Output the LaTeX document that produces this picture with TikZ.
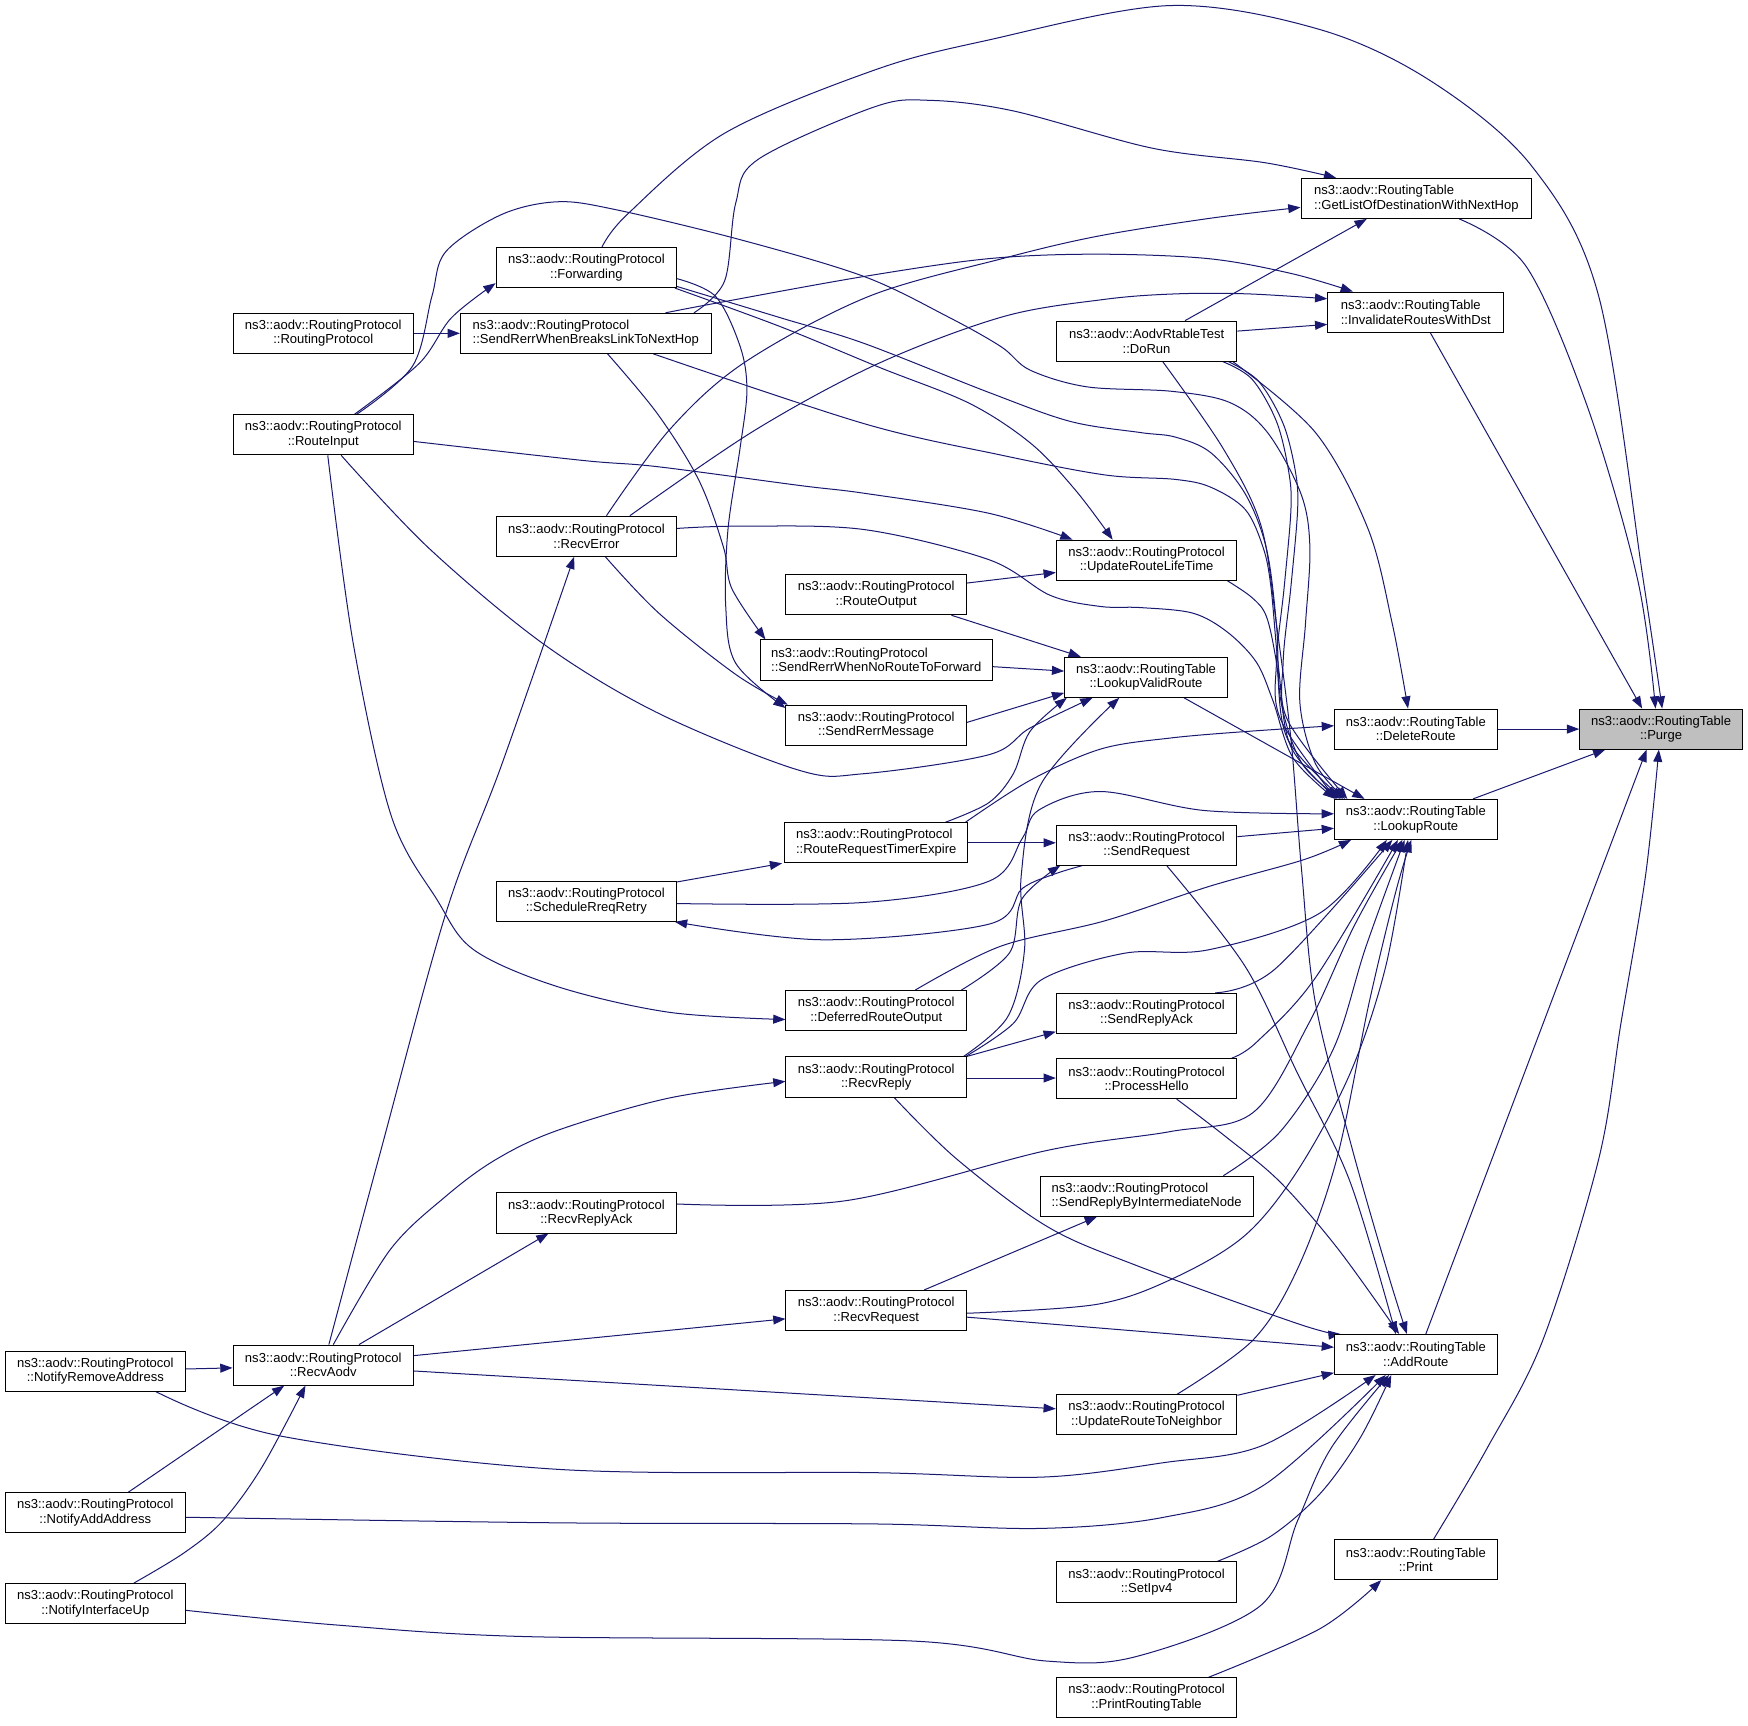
\documentclass[tikz,border=0pt]{standalone}
\usepackage{fontspec}
\setmainfont{Liberation Sans}
\usetikzlibrary{arrows.meta,backgrounds}
\definecolor{edgec}{RGB}{25,25,112}
\begin{document}
\begin{tikzpicture}[x=1pt,y=-1pt,
  box/.style={draw=black, fill=white, line width=0.8pt, inner sep=0pt, minimum height=36pt, font=\fontsize{11.7}{13}\selectfont, align=center},
  lbox/.style={box, align=left},
  rp/.style={box, minimum width=162pt},
  rt/.style={box, minimum width=146pt},
  edge/.style={draw=edgec, line width=0.9pt, -{Triangle[length=11pt,width=8pt]}},
  sm/.style={smooth, tension=0.55}
]
\useasboundingbox (0,0) rectangle (1568,1548);
% ---------------- nodes
\node[rt, fill=black!25] (purge) at (1490,654) {ns3::aodv::RoutingTable\\::Purge};
\node[lbox, minimum width=207pt] (getlist) at (1270.5,178) {ns3::aodv::RoutingTable\\::GetListOfDestinationWithNextHop};
\node[lbox, minimum width=158pt] (invalidate) at (1270,280) {ns3::aodv::RoutingTable\\::InvalidateRoutesWithDst};
\node[rt] (deleteroute) at (1270,654) {ns3::aodv::RoutingTable\\::DeleteRoute};
\node[rt] (lookuproute) at (1270,735) {ns3::aodv::RoutingTable\\::LookupRoute};
\node[rt] (addroute) at (1270,1215) {ns3::aodv::RoutingTable\\::AddRoute};
\node[rt] (print) at (1270,1399) {ns3::aodv::RoutingTable\\::Print};
\node[rp] (dorun) at (1028.5,306) {ns3::aodv::AodvRtableTest\\::DoRun};
\node[rp] (urlt) at (1028.5,502.5) {ns3::aodv::RoutingProtocol\\::UpdateRouteLifeTime};
\node[rt] (lvr) at (1028,607.5) {ns3::aodv::RoutingTable\\::LookupValidRoute};
\node[rp] (sendrequest) at (1028.5,758) {ns3::aodv::RoutingProtocol\\::SendRequest};
\node[rp] (sendreplyack) at (1028.5,909) {ns3::aodv::RoutingProtocol\\::SendReplyAck};
\node[rp] (processhello) at (1028.5,967.5) {ns3::aodv::RoutingProtocol\\::ProcessHello};
\node[lbox, minimum width=191pt] (srbin) at (1028.5,1073) {ns3::aodv::RoutingProtocol\\::SendReplyByIntermediateNode};
\node[rp] (urtn) at (1028.5,1269) {ns3::aodv::RoutingProtocol\\::UpdateRouteToNeighbor};
\node[rp] (setipv4) at (1028.5,1419) {ns3::aodv::RoutingProtocol\\::SetIpv4};
\node[rp] (printrt) at (1028.5,1523) {ns3::aodv::RoutingProtocol\\::PrintRoutingTable};
\node[rp] (routeoutput) at (786,533.5) {ns3::aodv::RoutingProtocol\\::RouteOutput};
\node[lbox, minimum width=208pt] (srwnrtf) at (786,592) {ns3::aodv::RoutingProtocol\\::SendRerrWhenNoRouteToForward};
\node[rp] (srm) at (786,650.5) {ns3::aodv::RoutingProtocol\\::SendRerrMessage};
\node[lbox, minimum width=164pt] (rrte) at (786,756) {ns3::aodv::RoutingProtocol\\::RouteRequestTimerExpire};
\node[rp] (dro) at (786,906.5) {ns3::aodv::RoutingProtocol\\::DeferredRouteOutput};
\node[rp] (recvreply) at (786,966) {ns3::aodv::RoutingProtocol\\::RecvReply};
\node[rp] (recvrequest) at (786,1175.5) {ns3::aodv::RoutingProtocol\\::RecvRequest};
\node[rp] (forwarding) at (526,240) {ns3::aodv::RoutingProtocol\\::Forwarding};
\node[lbox, minimum width=225pt] (sb) at (525.5,299) {ns3::aodv::RoutingProtocol\\::SendRerrWhenBreaksLinkToNextHop};
\node[rp] (recverror) at (526,481) {ns3::aodv::RoutingProtocol\\::RecvError};
\node[rp] (srr) at (526,808.5) {ns3::aodv::RoutingProtocol\\::ScheduleRreqRetry};
\node[rp] (recvreplyack) at (526,1088) {ns3::aodv::RoutingProtocol\\::RecvReplyAck};
\node[rp] (rpctor) at (290,299) {ns3::aodv::RoutingProtocol\\::RoutingProtocol};
\node[rp] (routeinput) at (290,390) {ns3::aodv::RoutingProtocol\\::RouteInput};
\node[rp] (recvaodv) at (290,1224.5) {ns3::aodv::RoutingProtocol\\::RecvAodv};
\node[rp] (nra) at (85.5,1230) {ns3::aodv::RoutingProtocol\\::NotifyRemoveAddress};
\node[rp] (naa) at (85.5,1357) {ns3::aodv::RoutingProtocol\\::NotifyAddAddress};
\node[rp] (niu) at (85.5,1438.5) {ns3::aodv::RoutingProtocol\\::NotifyInterfaceUp};
% ---------------- edges
\begin{pgfonlayer}{background}
% into Purge
\draw[edge] (deleteroute.east) -- (purge.west);
\draw[edge] ([xshift=-22pt]lookuproute.north east) -- ([xshift=-50pt]purge.south);
\draw[edge] ([xshift=9pt]addroute.north) -- ([xshift=-13pt]purge.south);
\draw[edge] plot[sm] coordinates {([xshift=16pt]print.north) (1334,1299) (1384,1202) (1434,1040) (1454,918) (1476,786) ([xshift=-2pt]purge.south)};
\draw[edge] plot[sm] coordinates {([xshift=38.5pt]getlist.south) (1369,239) (1424,365) (1469,520) ([xshift=-5pt]purge.north)};
\draw[edge] ([xshift=13pt]invalidate.south) -- ([xshift=-17pt]purge.north);
\draw[edge] plot[sm] coordinates {([xshift=14pt]forwarding.north) (563,192) (650,119.5) (784,63) (884,36.5) (1049,5) (1184,26.5) (1284,73) (1374,149) (1434,265.5) (1474,520) ([xshift=1pt]purge.north)};
% into GetList / Invalidate
\draw[edge] plot[sm] coordinates {([xshift=97pt]sb.north) (650,252) (660,182) (680,143) (784,96) (834,90) (909,99.5) (1034,133) (1135,146) ([xshift=32pt]getlist.north west)};
\draw[edge] plot[sm] coordinates {([xshift=18pt]recverror.north) (601,385) (668,325) (779,266) (899,232) (984,212) (1084,196) ([yshift=-8pt]getlist.west)};
\draw[edge] plot[sm] coordinates {([xshift=71.5pt]sb.north) (642,272) (775,248) (887,232) (984,228) (1084,232) (1159,245.5) ([xshift=23pt]invalidate.north west)};
\draw[edge] plot[sm] coordinates {([xshift=39pt]recverror.north) (677,386) (788,326) (900,284) (991,268.5) (1055,263.6) (1119,263.6) ([yshift=12pt]invalidate.west)};
\draw[edge] ([yshift=9pt]dorun.east) -- ([yshift=-11pt]invalidate.west);
\draw[edge] ([xshift=34.5pt]dorun.north) -- ([xshift=-44.5pt]getlist.south);
% DoRun
\draw[edge] plot[sm] coordinates {([xshift=-4pt]dorun.south east) (1180,388) (1227,474) (1249,560) ([xshift=-7pt]deleteroute.north)};
\draw[edge] plot[sm] coordinates {([xshift=14.5pt]dorun.south) (1097,402) (1131,471) (1145,560) (1158,663) (1167.5,780) (1180,900) (1212,1027) (1244,1139) ([xshift=-8pt]addroute.north)};
\draw[edge] plot[sm] coordinates {([xshift=-13pt]dorun.south east) (1123,340) (1145,378) (1156,423) (1158,457) (1152,526) (1145,594) (1149,646) ([xshift=2pt]lookuproute.north west)};
\draw[edge] plot[sm] coordinates {([xshift=-8pt]dorun.south east) (1129,342) (1151,380) (1162,423) (1164,457) (1158,526) (1151,594) (1155,646) ([xshift=12pt]lookuproute.north west)};
% LookupRoute top-left bundle
\draw[edge] plot[sm] coordinates {([yshift=-17pt]forwarding.east) (700,285) (775,308) (887,352) (960,378) (1023,388) (1054,392) (1086,406) (1117,443) (1136,492) (1145,560) (1149,629) (1168,685) ([xshift=6pt]lookuproute.north west)};
\draw[edge] plot[sm] coordinates {([xshift=30pt]routeinput.north) (370,328.5) (387.5,265.5) (400,225.6) (450,192.4) (500,181) (552,188) (664,215) (775,248) (850,284) (898,311) (924,332) (975,347) (1051,351) (1103,361) (1137,388) (1167,443) (1175,491) (1171,560) (1166,630) (1180,685) ([xshift=10pt]lookuproute.north west)};
\draw[edge] plot[sm] coordinates {([xshift=60.5pt]sb.south) (775,380) (897,408) (991,426) (1054,430) (1086,437) (1117,457) (1133,491) (1140,526) (1147,600) (1158,670) ([xshift=3pt]lookuproute.north west)};
\draw[edge] plot[sm] coordinates {([yshift=7pt]recverror.east) (664,472) (775,475) (887,502) (942,534) (987,544) (1023,545) (1070,550) (1101,567) (1127,594) (1142,629) (1160,680) ([xshift=1pt]lookuproute.north west)};
\draw[edge] plot[sm] coordinates {([xshift=-9pt]urlt.south east) (1123,536) (1136,553) (1145,594) (1155,663) ([xshift=8pt]lookuproute.north west)};
\draw[edge] ([xshift=34pt]lvr.south) -- ([xshift=-46pt]lookuproute.north);
% LookupRoute left
\draw[edge] plot[sm] coordinates {([yshift=-2pt]srr.east) (775,809.5) (887,790.5) (917,752) (932,726.5) (987,710) (1080,727) ([yshift=5pt]lookuproute.west)};
\draw[edge] ([yshift=7.5pt]sendrequest.east) -- ([yshift=-8pt]lookuproute.west);
% LookupRoute bottom
\draw[edge] plot[sm] coordinates {([xshift=35pt]dro.north) (897,849) (991,826) (1085,795) (1170,771) ([xshift=-58pt]lookuproute.south)};
\draw[edge] plot[sm] coordinates {([xshift=-1pt]recvreply.north east) (909,918) (934,879) (1009,855) (1084,852) (1184,819) ([xshift=-26pt]lookuproute.south)};
\draw[edge] plot[sm] coordinates {([xshift=-20pt]sendreplyack.north east) (1144,869) ([xshift=-21pt]lookuproute.south)};
\draw[edge] plot[sm] coordinates {([xshift=-5pt]processhello.north east) (1127,935) (1180,877) ([xshift=-16pt]lookuproute.south)};
\draw[edge] plot[sm] coordinates {([yshift=8pt]recvreplyack.east) (759,1077) (939,1032) (1050,1015) (1124,998) (1174,918) (1215,830) ([xshift=-12pt]lookuproute.south)};
\draw[edge] plot[sm] coordinates {([xshift=-27pt]srbin.north east) (1148.5,1015) (1196,941) (1225,850) ([xshift=-10pt]lookuproute.south)};
\draw[edge] plot[sm] coordinates {([yshift=-2.5pt]recvrequest.east) (984,1170) (1054,1146) (1117,1108) (1164,1050) (1211,963) (1243,867) ([xshift=-7pt]lookuproute.south)};
\draw[edge] plot[sm] coordinates {([xshift=27.5pt]urtn.north) (1124,1202) (1164,1138) (1199,1040) (1228,900) (1252,800) ([xshift=-4pt]lookuproute.south)};
% UpdateRouteLifeTime
\draw[edge] plot[sm] coordinates {([yshift=-6pt]routeinput.east) (522.6,413) (589.6,418.6) (717.5,435.5) (775.5,442.5) (887,460.4) ([xshift=15pt]urlt.north west)};
\draw[edge] plot[sm] coordinates {([xshift=-2pt]forwarding.south east) (700,293) (790,330) (870,362) (925,398) (965,440) ([xshift=51pt]urlt.north west)};
\draw[edge] ([yshift=10.5pt]routeoutput.east) -- ([yshift=-11pt]urlt.west);
% LookupValidRoute
\draw[edge] ([xshift=67.5pt]routeoutput.south) -- ([xshift=-58.5pt]lvr.north);
\draw[edge] ([yshift=-6pt]srwnrtf.east) -- ([yshift=5.5pt]lvr.west);
\draw[edge] ([yshift=2.5pt]srm.east) -- ([yshift=-14pt]lvr.west);
\draw[edge] plot[sm] coordinates {([xshift=16pt]routeinput.south) (385,492) (488,578) (591,640) (717,691) (775,694) (887,677) (924,653) ([xshift=-48pt]lvr.south)};
\draw[edge] plot[sm] coordinates {([xshift=62pt]rrte.north) (887,720) (909,694) (924,656) ([xshift=-71pt]lvr.south)};
\draw[edge] plot[sm] coordinates {([xshift=-3pt]recvreply.north east) (904,912) (919,852) (916,786) (934,703) ([xshift=-24pt]lvr.south)};
% DeleteRoute
\draw[edge] plot[sm] coordinates {([xshift=80pt]rrte.north) (924,700) (987,672) (1050,662) (1120,656) ([yshift=3pt]deleteroute.west)};
% SendRequest
\draw[edge] (rrte.east) -- (rrte.east -| sendrequest.west);
\draw[edge] plot[sm] coordinates {([xshift=-5pt]dro.north east) (905.6,854.6) (916.6,806.5) ([xshift=4pt]sendrequest.south west)};
\draw[edge] plot[sm] coordinates {([xshift=24pt]sendrequest.south west) (946,784) (917,797) (887,829) (738,843) ([xshift=-2pt]srr.south east)};
\draw[edge] plot[sm] coordinates {([xshift=18pt]sendrequest.south) (1117,867) (1164,963) (1211,1060) ([xshift=-18pt]addroute.north)};
\draw[edge] ([yshift=-1pt]srr.north east) -- ([xshift=-2pt]rrte.south west);
% RecvReply
\draw[edge] (recvreply.north east) -- ([yshift=2pt]sendreplyack.south west);
\draw[edge] ([yshift=-1pt]recvreply.east) -- ([yshift=-1pt]recvreply.east -| processhello.west);
\draw[edge] plot[sm] coordinates {([xshift=16pt]recvreply.south) (858,1039.5) (939,1100) (1019,1135) (1166,1188) ([xshift=6pt]addroute.north west)};
\draw[edge] plot[sm] coordinates {([xshift=27pt]processhello.south) (1100,1020) (1148,1060) (1200,1120) ([xshift=-15pt]addroute.north)};
% RecvRequest
\draw[edge] ([xshift=43pt]recvrequest.north) -- ([xshift=-44.5pt]srbin.south);
\draw[edge] ([yshift=-6pt]recvrequest.east) -- ([yshift=6.5pt]addroute.west);
% AddRoute
\draw[edge] ([yshift=-1pt]urtn.north east) -- ([yshift=2pt]addroute.south west);
\draw[edge] plot[sm] coordinates {([xshift=-18pt]setipv4.north east) (1140,1378) (1184,1340) (1220,1290) ([xshift=-22pt]addroute.south)};
\draw[edge] plot[sm] coordinates {([xshift=54.5pt]nra.south) (251,1288) (500,1318) (784,1321) (934,1325) (1044,1312) (1134,1296) ([xshift=-36pt]addroute.south)};
\draw[edge] plot[sm] coordinates {([yshift=-4pt]naa.east) (500,1366) (784,1367) (934,1371) (1044,1361) (1134,1332) ([xshift=-27pt]addroute.south)};
\draw[edge] plot[sm] coordinates {([yshift=-6pt]niu.east) (300,1457.5) (470,1468) (818,1472) (939,1490) (1019,1486) (1131,1440) (1164,1364) (1194,1299) ([xshift=-24pt]addroute.south)};
\draw[edge] plot[sm] coordinates {([xshift=55.5pt]printrt.north) (1184,1461) ([xshift=-31pt]print.south)};
% RecvAodv
\draw[edge] plot[sm] coordinates {([xshift=5pt]recvaodv.north) (340,1038) (400,819) (450,686) ([xshift=-11pt]recverror.south)};
\draw[edge] plot[sm] coordinates {([xshift=9pt]recvaodv.north) (350,1121) (400,1073) (445,1040) (500,1014) (600,985) ([yshift=-4pt]recvreply.west)};
\draw[edge] ([xshift=32pt]recvaodv.north) -- ([xshift=-34pt]recvreplyack.south);
\draw[edge] ([yshift=8.5pt]recvaodv.east) -- ([yshift=-7.5pt]recvrequest.west);
\draw[edge] ([yshift=-5.3pt]recvaodv.east) -- ([yshift=5.3pt]urtn.west);
\draw[edge] ([yshift=2pt]nra.east) -- ([yshift=-2.5pt]recvaodv.west);
\draw[edge] ([xshift=29.5pt]naa.north) -- ([xshift=-35pt]recvaodv.south);
\draw[edge] plot[sm] coordinates {([xshift=34.5pt]niu.north) (165,1393) (200,1364) (235,1316) ([xshift=-16pt]recvaodv.south)};
% RouteInput
\draw[edge] plot[sm] coordinates {([xshift=28pt]routeinput.north) (376,326) (405,285) ([yshift=-14pt]forwarding.west)};
\draw[edge] plot[sm] coordinates {([xshift=4pt]routeinput.south) (317,578) (351,732) (392,807) (425,852) (500,885) (600,908) ([yshift=-8pt]dro.west)};
\draw[edge] (rpctor.east) -- (sb.west);
% Rerr
\draw[edge] plot[sm] coordinates {([yshift=-10pt]forwarding.east) (642,266) (664,311) (670,350) (664,401) (653,475) (651,544) (660,595) ([yshift=-3pt]srm.north west)};
\draw[edge] plot[sm] coordinates {([xshift=19.5pt]sb.south) (590,371.5) (627,431) (649,491) (656.5,528) ([xshift=5pt]srwnrtf.north west)};
\draw[edge] plot[sm] coordinates {([xshift=17pt]recverror.south) (591,550) (660,605) ([xshift=2pt]srm.north west)};
\end{pgfonlayer}
\end{tikzpicture}
\end{document}
